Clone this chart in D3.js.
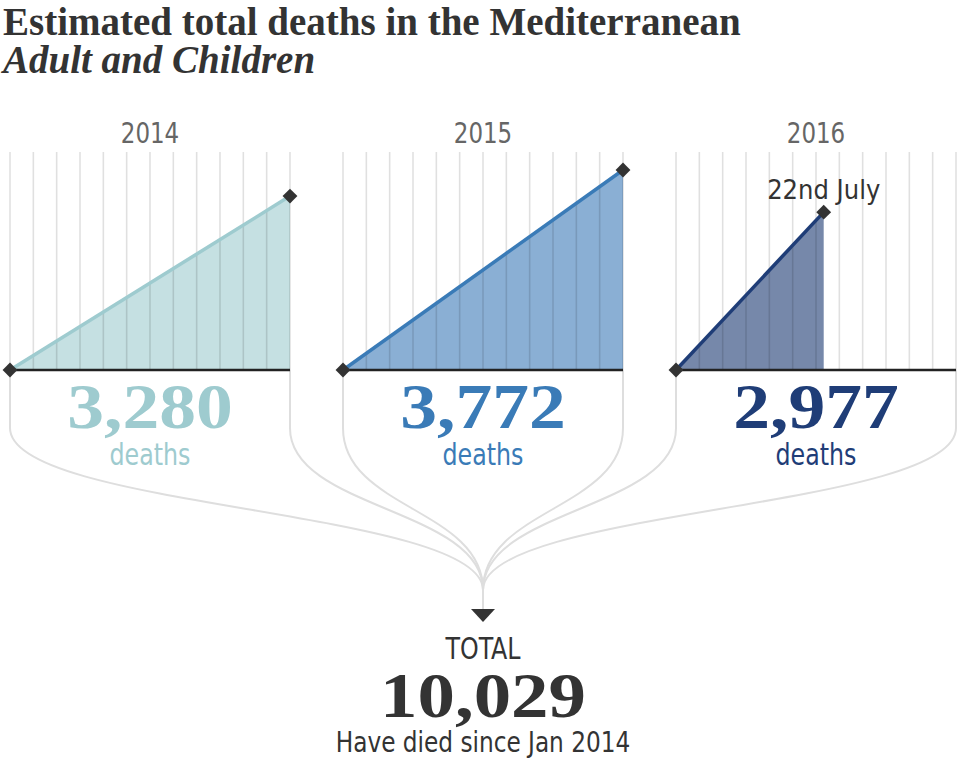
<!DOCTYPE html>
<html>
<head>
<meta charset="utf-8">
<script src="https://cdn.jsdelivr.net/npm/d3@7"></script>
<style>
  body { margin: 0; background: #fff; }
  .sans { font-family: "DejaVu Sans Condensed", "DejaVu Sans", sans-serif; font-stretch: condensed; }
  .serif { font-family: "Liberation Serif", "DejaVu Serif", serif; }
</style>
</head>
<body>
<div id="chart"></div>
<script>
// data
var years = ["2014", "2015", "2016"];
var deaths = [3280, 3772, 2977];
var endMonth = [12, 12, 6.33];          // 2016 only runs to 22nd July
var endLabels = ["", "", "22nd July"];
var lineColors = ["#9ecbcf", "#3a7bb7", "#1f3d77"];
var fillColors = ["#c5e0e2", "#8aafd4", "#7688aa"];
var months = d3.range(13);
var total = 10029;

var width = 958, height = 758;
var baseY = 370;
var fmt = d3.format(",");

var svg = d3.select("#chart")
    .append("svg")
    .attr("width", width)
    .attr("height", height);

// squeeze or widen a centred text horizontally
function stretch(sel, cx, s) {
    sel.attr("x", cx / s).attr("transform", "scale(" + s + ",1)");
}

// title
svg.append("text")
    .attr("class", "serif")
    .attr("x", 3)
    .attr("y", 35)
    .attr("font-size", 39)
    .attr("font-weight", "bold")
    .attr("fill", "#333")
    .text("Estimated total deaths in the Mediterranean");

svg.append("text")
    .attr("class", "serif")
    .attr("x", 3)
    .attr("y", 73)
    .attr("font-size", 39)
    .attr("font-weight", "bold")
    .attr("font-style", "italic")
    .attr("fill", "#333")
    .text("Adult and Children");

var panel = d3.scaleBand()
    .domain(years)
    .range([10, 956])
    .paddingInner(0.1592);

var x = d3.scaleLinear().domain([0, 12]).range([0, panel.bandwidth()]);
var y = d3.scaleLinear().domain([0, 3772]).range([baseY, 170]);

var centerX = panel("2015") + panel.bandwidth() / 2;
var joinY = 590;
var mid = panel.bandwidth() / 2;

// funnel lines from each panel's edges down to the total
var link = d3.linkVertical();
var funnel = svg.append("g")
    .attr("fill", "none")
    .attr("stroke", "#dedede")
    .attr("stroke-width", 2);

years.forEach(function (yr) {
    [0, 12].forEach(function (m) {
        var sx = panel(yr) + x(m);
        funnel.append("path")
            .attr("d", "M" + sx + "," + baseY + "V428" +
                link({ source: [sx, 428], target: [centerX, joinY] }).replace(/^M[^C]*/, ""));
    });
});

funnel.append("line")
    .attr("x1", centerX).attr("x2", centerX)
    .attr("y1", joinY).attr("y2", 610);

svg.append("path")
    .attr("d", "M" + (centerX - 12) + ",609L" + (centerX + 12) + ",609L" + centerX + ",622Z")
    .attr("fill", "#333");

var diamond = d3.symbol().type(d3.symbolSquare).size(110);

var g = svg.selectAll(".panel")
    .data(years)
    .enter()
    .append("g")
    .attr("class", "panel")
    .attr("transform", function (d) {
        return "translate(" + panel(d) + ",0)";
    });

// year label
g.append("text")
    .attr("class", "sans")
    .attr("y", 143)
    .attr("text-anchor", "middle")
    .attr("font-size", 29)
    .attr("fill", "#666")
    .text(function (d) { return d; })
    .call(stretch, mid, 0.88);

// area
g.append("path")
    .attr("fill", function (d, i) { return fillColors[i]; })
    .attr("d", function (d, i) {
        return "M" + x(0) + "," + y(0) + "L" + x(endMonth[i]) + "," + y(deaths[i]) +
            "L" + x(endMonth[i]) + "," + y(0) + "Z";
    });

// month gridlines on top, translucent so they darken over the fill
g.selectAll(".grid")
    .data(months)
    .enter()
    .append("line")
    .attr("x1", function (m) { return x(m); })
    .attr("x2", function (m) { return x(m); })
    .attr("y1", 152)
    .attr("y2", baseY)
    .attr("stroke", "#000")
    .attr("stroke-opacity", 0.12)
    .attr("stroke-width", 1.6);

// trend line
g.append("line")
    .attr("x1", x(0))
    .attr("y1", y(0))
    .attr("x2", function (d, i) { return x(endMonth[i]); })
    .attr("y2", function (d, i) { return y(deaths[i]); })
    .attr("stroke", function (d, i) { return lineColors[i]; })
    .attr("stroke-width", 3.5);

// baseline
g.append("line")
    .attr("x1", x(0))
    .attr("x2", x(12))
    .attr("y1", baseY)
    .attr("y2", baseY)
    .attr("stroke", "#222")
    .attr("stroke-width", 2.5);

// markers
g.append("path")
    .attr("d", diamond)
    .attr("fill", "#333")
    .attr("transform", "translate(" + x(0) + "," + y(0) + ") rotate(45)");

g.append("path")
    .attr("d", diamond)
    .attr("fill", "#333")
    .attr("transform", function (d, i) {
        return "translate(" + x(endMonth[i]) + "," + y(deaths[i]) + ") rotate(45)";
    });

g.append("text")
    .attr("class", "sans")
    .attr("x", function (d, i) { return x(endMonth[i]); })
    .attr("y", function (d, i) { return y(deaths[i]) - 13; })
    .attr("text-anchor", "middle")
    .attr("font-size", 27)
    .attr("fill", "#333")
    .text(function (d, i) { return endLabels[i]; });

// counts
g.append("text")
    .attr("class", "serif")
    .attr("y", 428)
    .attr("text-anchor", "middle")
    .attr("font-size", 64)
    .attr("font-weight", "bold")
    .attr("fill", function (d, i) { return lineColors[i]; })
    .text(function (d, i) { return fmt(deaths[i]); })
    .call(stretch, mid, 1.15);

g.append("text")
    .attr("class", "sans")
    .attr("y", 465)
    .attr("text-anchor", "middle")
    .attr("font-size", 30)
    .attr("fill", function (d, i) { return lineColors[i]; })
    .text("deaths")
    .call(stretch, mid, 0.88);

// total
svg.append("text")
    .attr("class", "sans")
    .attr("y", 659)
    .attr("text-anchor", "middle")
    .attr("font-size", 30)
    .attr("fill", "#333")
    .text("TOTAL")
    .call(stretch, centerX, 0.88);

svg.append("text")
    .attr("class", "serif")
    .attr("y", 717)
    .attr("text-anchor", "middle")
    .attr("font-size", 64)
    .attr("font-weight", "bold")
    .attr("fill", "#333")
    .text(fmt(total))
    .call(stretch, centerX, 1.17);

svg.append("text")
    .attr("class", "sans")
    .attr("y", 752)
    .attr("text-anchor", "middle")
    .attr("font-size", 29)
    .attr("fill", "#333")
    .text("Have died since Jan 2014")
    .call(stretch, centerX, 0.89);
</script>
</body>
</html>
